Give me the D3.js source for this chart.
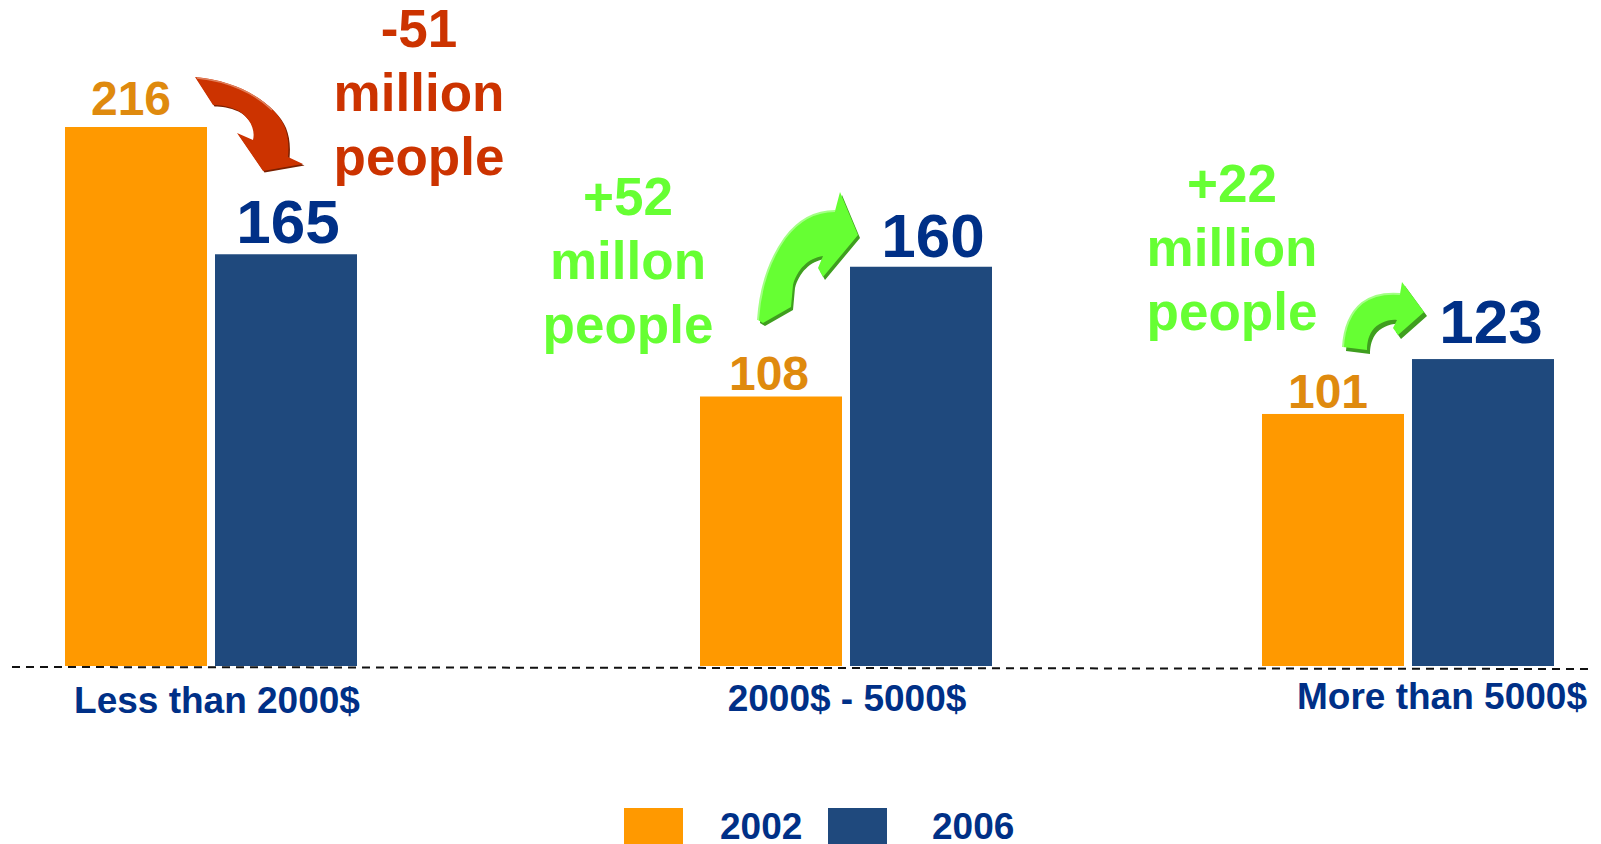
<!DOCTYPE html>
<html>
<head>
<meta charset="utf-8">
<script src="https://cdn.jsdelivr.net/npm/d3@7/dist/d3.min.js"></script>
<style>
  html, body { margin: 0; padding: 0; background: #fff; overflow: hidden; }
  svg { display: block; }
  text { font-family: "Liberation Sans", Arial, sans-serif; font-weight: bold; }
</style>
</head>
<body>
<svg id="chart" width="1601" height="844"></svg>
<script>
// Population by income band, millions of people
const categories = ["Less than 2000$", "2000$ - 5000$", "More than 5000$"];
const years = ["2002", "2006"];
const values2002 = [216, 108, 101];
const values2006 = [165, 160, 123];
const changeLines = [
  ["-51", "million", "people"],
  ["+52", "millon", "people"],
  ["+22", "million", "people"]
];

// Layout
const baseY = 666;
const groupLeft = [65, 700, 1262];
const categoryLabelPos = [[217, 713], [847, 711], [1442, 709]];
const changeLabelPos = [[419, 47], [628, 215], [1232, 202]];
const labelGap = { "2002": [12, 7, 6], "2006": [11, 10, 16] };
const labelShift = { "2002": [-5, -2, -5], "2006": [2, 12, 8] };
const changeColors = ["#cc3300", "#66ff33", "#66ff33"];
const yearColors = { "2002": "#ff9900", "2006": "#1f497d" };
const valueColors = { "2002": "#df8a0e", "2006": "#003087" };
const valueSizes = { "2002": 48, "2006": 62 };
const textBlue = "#003087";

const svg = d3.select("#chart");

const y = d3.scaleLinear().domain([0, 216]).range([baseY, 127]);
const groupX = d3.scaleOrdinal().domain(categories).range(groupLeft);
const barX = d3.scaleBand().domain(years).range([0, 292]).paddingInner(8 / 150);

const rows = years.flatMap((year, s) =>
  categories.map((category, c) => ({
    year, category, c,
    value: (s === 0 ? values2002 : values2006)[c]
  }))
);

// Bars
svg.append("g").selectAll("rect").data(rows).join("rect")
  .attr("x", d => groupX(d.category) + barX(d.year))
  .attr("y", d => y(d.value))
  .attr("width", barX.bandwidth())
  .attr("height", d => y(0) - y(d.value))
  .attr("fill", d => yearColors[d.year]);

// Dashed baseline, running very slightly downhill
svg.append("line")
  .attr("x1", 12).attr("y1", 667).attr("x2", 1590).attr("y2", 669)
  .attr("stroke", "#111").attr("stroke-width", 2)
  .attr("stroke-dasharray", "8 6");

// Values over the bars
svg.append("g").selectAll("text").data(rows).join("text")
  .attr("x", d => groupX(d.category) + barX(d.year) + barX.bandwidth() / 2 + labelShift[d.year][d.c])
  .attr("y", d => y(d.value) - labelGap[d.year][d.c])
  .attr("text-anchor", "middle")
  .attr("font-size", d => valueSizes[d.year])
  .attr("fill", d => valueColors[d.year])
  .text(d => d.value);

// Category labels
svg.append("g").selectAll("text").data(categories).join("text")
  .attr("x", (d, i) => categoryLabelPos[i][0])
  .attr("y", (d, i) => categoryLabelPos[i][1])
  .attr("text-anchor", "middle")
  .attr("font-size", 37)
  .attr("fill", textBlue)
  .text(d => d);

// Change annotations
changeLines.forEach((lines, i) => {
  svg.append("g").selectAll("text").data(lines).join("text")
    .attr("x", changeLabelPos[i][0])
    .attr("y", (d, k) => changeLabelPos[i][1] + k * 64)
    .attr("text-anchor", "middle")
    .attr("font-size", 53)
    .attr("fill", changeColors[i])
    .text(d => d);
});

// Curved block arrows: body, offset shadow and a highlight along the outer edge
const arrows = [
  {
    body: "M195,77 C228,80 255,92 273,110 C285,122 290,135 288,157 L303,164 L263,171 L237,133 L253,140 C256,128 248,116 237,110 C228,106 220,105 213,105 Z",
    edge: "M197,78 C228,81 255,93 272,110",
    fill: "#cc3300", shadow: "#7a2000", light: "#e0805c", dx: 1.5, dy: 1.5, lw: 1.5
  },
  {
    body: "M758,320 C760,290 768,262 785,238 C800,218 818,211 835,211 L840,192 L858,235 L823,277 L818,268 L823,256 C808,258 797,270 793,285 L791,307 L763,323 Z",
    edge: "M758,320 C760,290 768,262 785,238 C800,218 818,211 835,211",
    fill: "#66ff33", shadow: "#3f9e1f", light: "#a3ff85", dx: 2, dy: 3, lw: 2
  },
  {
    body: "M1343,347 C1344,330 1350,313 1362,303 C1374,294 1388,293 1400,294 L1402,282 L1424,312 L1398,335 L1393,328 L1397,320 C1388,319 1378,323 1372,331 C1368,337 1367,344 1367,350 Z",
    edge: "M1343,347 C1344,330 1350,313 1362,303 C1374,294 1388,293 1400,294",
    fill: "#66ff33", shadow: "#3f9e1f", light: "#a3ff85", dx: 3, dy: 4, lw: 2
  }
];

const arrowGroups = svg.append("g").selectAll("g").data(arrows).join("g");
arrowGroups.append("path")
  .attr("d", d => d.body)
  .attr("transform", d => `translate(${d.dx},${d.dy})`)
  .attr("fill", d => d.shadow);
arrowGroups.append("path")
  .attr("d", d => d.body)
  .attr("fill", d => d.fill);
arrowGroups.append("path")
  .attr("d", d => d.edge)
  .attr("fill", "none")
  .attr("stroke", d => d.light)
  .attr("stroke-width", d => d.lw);

// Legend
const legendSwatchX = d3.scaleOrdinal().domain(years).range([624, 828]);
const legendTextX = d3.scaleOrdinal().domain(years).range([720, 932]);
const legend = svg.append("g").selectAll("g").data(years).join("g");
legend.append("rect")
  .attr("x", d => legendSwatchX(d))
  .attr("y", 808)
  .attr("width", 59)
  .attr("height", 36)
  .attr("fill", d => yearColors[d]);
legend.append("text")
  .attr("x", d => legendTextX(d))
  .attr("y", 838.5)
  .attr("font-size", 37)
  .attr("fill", textBlue)
  .text(d => d);
</script>
</body>
</html>
